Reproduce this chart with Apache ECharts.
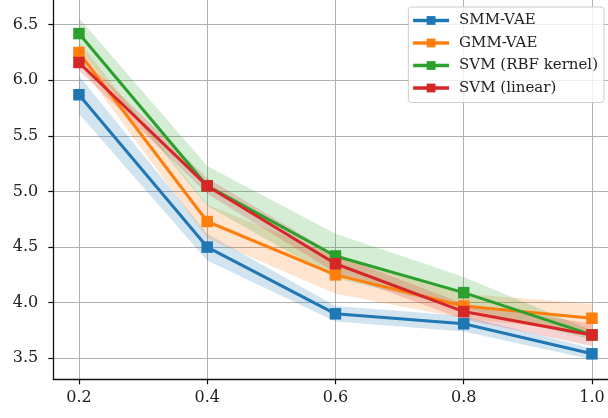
<!DOCTYPE html>
<html>
<head>
<meta charset="utf-8">
<script src="https://cdn.jsdelivr.net/npm/echarts@6/dist/echarts.min.js"></script>
<style>html,body{margin:0;padding:0;background:#fff}#c{width:608px;height:418px}</style>
</head>
<body>
<div id="c"></div>
<script>
var xVals = [0.2, 0.4, 0.6, 0.8, 1.0];
var xTicks = [0.2, 0.4, 0.6, 0.8, 1.0];
var yTicks = [3.5, 4.0, 4.5, 5.0, 5.5, 6.0, 6.5];
var names = ['SMM-VAE', 'GMM-VAE', 'SVM (RBF kernel)', 'SVM (linear)'];
var smmMean = [5.87, 4.50, 3.90, 3.81, 3.54];
var smmStd  = [0.17, 0.12, 0.07, 0.07, 0.05];
var gmmMean = [6.25, 4.73, 4.25, 3.97, 3.86];
var gmmStd  = [0.10, 0.15, 0.17, 0.11, 0.13];
var rbfMean = [6.42, 5.05, 4.42, 4.09, 3.71];
var rbfStd  = [0.14, 0.18, 0.20, 0.14, 0.04];
var linMean = [6.16, 5.05, 4.35, 3.92, 3.71];
var linStd  = [0.07, 0.07, 0.08, 0.07, 0.10];
var colors = ['#1f77b4', '#ff7f0e', '#2ca02c', '#d62728'];

var means = [smmMean, gmmMean, rbfMean, linMean];
var stds = [smmStd, gmmStd, rbfStd, linStd];
var FONT = 'DejaVu Serif';

function band(mean, std, color) {
  return {
    type: 'custom', silent: true, z: 1,
    renderItem: function (params, api) {
      if (params.dataIndex !== 0) return;
      var pts = [];
      for (var i = 0; i < xVals.length; i++) pts.push(api.coord([xVals[i], mean[i] + std[i]]));
      for (var j = xVals.length - 1; j >= 0; j--) pts.push(api.coord([xVals[j], mean[j] - std[j]]));
      return { type: 'polygon', shape: { points: pts }, style: { fill: color, opacity: 0.2 } };
    },
    data: xVals.map(function (v, i) { return [v, mean[i]]; })
  };
}

var series = [];
for (var k = 0; k < 4; k++) series.push(band(means[k], stds[k], colors[k]));
for (var k2 = 0; k2 < 4; k2++) {
  series.push({
    type: 'line', name: names[k2], z: 3,
    data: xVals.map(function (v, i) { return [v, means[k2][i]]; }),
    symbol: 'rect', symbolSize: 11.5, showSymbol: true,
    lineStyle: { color: colors[k2], width: 3 },
    itemStyle: { color: colors[k2] },
    emphasis: { disabled: true }, animation: false
  });
}

var chart = echarts.init(document.getElementById('c'));
chart.setOption({
  animation: false,
  grid: { left: 53.3, right: 0, top: 0, bottom: 38.7, containLabel: false },
  xAxis: {
    type: 'value', min: 0.16, max: 1.025,
    axisLine: { show: true, lineStyle: { color: '#111', width: 1.3 } },
    axisTick: { show: true, length: 5, lineStyle: { color: '#111', width: 1.2 }, customValues: xTicks },
    axisLabel: { customValues: xTicks, formatter: function (v) { return v.toFixed(1); }, color: '#222', fontFamily: FONT, fontSize: 16, margin: 11 },
    splitLine: { show: true, lineStyle: { color: '#b0b0b0', width: 1 } }
  },
  yAxis: {
    type: 'value', min: 3.311, max: 6.722,
    axisLine: { show: true, lineStyle: { color: '#111', width: 1.3 } },
    axisTick: { show: true, length: 5, lineStyle: { color: '#111', width: 1.2 }, customValues: yTicks },
    axisLabel: { customValues: yTicks, formatter: function (v) { return v.toFixed(1); }, color: '#222', fontFamily: FONT, fontSize: 16, margin: 15 },
    splitLine: { show: true, lineStyle: { color: '#b0b0b0', width: 1 } }
  },
  legend: {
    data: names, orient: 'vertical', right: 4, top: 7,
    itemWidth: 36, itemHeight: 11, itemGap: 7.5,
    padding: [6, 6, 7, 3],
    borderColor: '#cccccc', borderWidth: 1, borderRadius: 3,
    backgroundColor: 'rgba(255,255,255,0.8)',
    lineStyle: { width: 3.5 },
    textStyle: { fontFamily: FONT, fontSize: 15, color: '#222', padding: [0, 0, 0, 5] }
  },
  series: series
});
</script>
</body>
</html>
